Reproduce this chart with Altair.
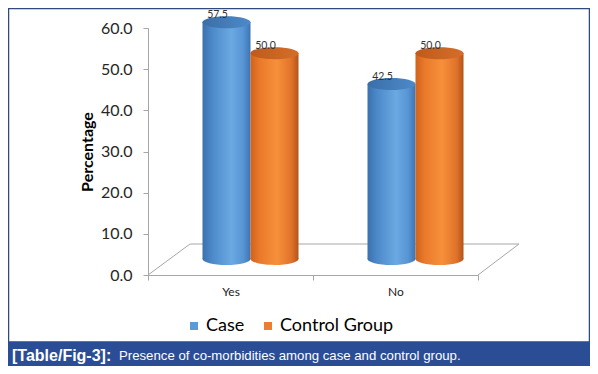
import altair as alt
import pandas as pd

categories = ["Yes", "No"]
series = ["Case", "Control Group"]
case_values = [57.5, 42.5]
control_values = [50.0, 50.0]
y_ticks = [0, 10, 20, 30, 40, 50, 60]
caption_bold = "[Table/Fig-3]:"
caption_text = "Presence of co-morbidities among case and control group."

rows = []
for i, c in enumerate(categories):
    rows.append({"cat": c, "series": series[0], "value": case_values[i]})
    rows.append({"cat": c, "series": series[1], "value": control_values[i]})
df = pd.DataFrame(rows)
df["zero"] = 0.0
df["label"] = df["value"].map(lambda v: f"{v:.1f}")

W, H = 330, 247
TOP = 20
DX, DY = 20, -16
BAND = 48
ELL = "M-1,0A1,0.25,0,1,0,1,0A1,0.25,0,1,0,-1,0Z"


def grad(stops):
    return {"gradient": "linear", "x1": 0, "y1": 0, "x2": 1, "y2": 0,
            "stops": [{"offset": o, "color": c} for o, c in stops]}


blue_body = grad([(0, "#3b70ad"), (0.2, "#4c89ca"), (0.6, "#6aa9e2"), (0.85, "#5794d4"), (1, "#3d74b3")])
orange_body = grad([(0, "#d0621b"), (0.2, "#ea7a2c"), (0.55, "#f7903a"), (0.85, "#e0732a"), (1, "#b4541a")])
blue_top = grad([(0, "#3a6ea8"), (1, "#4d8ac9")])
orange_top = grad([(0, "#bf5a1b"), (1, "#d46e2a")])

is_case = alt.datum.series == series[0]

AX = "#a6a6a6"
FONT = "Lato"

x_enc = alt.X("cat:N", sort=categories, scale=alt.Scale(paddingInner=0, paddingOuter=0),
              axis=alt.Axis(title=None, tickBand="extent", domainColor=AX, tickColor=AX, tickSize=5,
                            labelFont=FONT, labelFontSize=12, labelColor="#222222", labelPadding=6,
                            labelAngle=0))
xo_enc = alt.XOffset("series:N", sort=series,
                     scale=alt.Scale(paddingInner=0, paddingOuter=0.71875, range=[DX, W / 2 + DX]))
y_scale = alt.Scale(domain=[0, 60], nice=False, zero=True)
y_axis = alt.Axis(values=y_ticks, format=".1f", grid=False, domainColor=AX, tickColor=AX, tickSize=5,
                  labelPadding=11, labelFont=FONT, labelFontSize=16, labelColor="#262626",
                  titleFont=FONT, titleFontSize=16, titleFontWeight="bold", titleColor="#000000",
                  titlePadding=5)


def yv(field):
    return alt.Y(f"{field}:Q", scale=y_scale, axis=y_axis, title="Percentage")


base = alt.Chart(df).encode(x=x_enc, xOffset=xo_enc)

dummy = pd.DataFrame({"d": [0]})


def rule(x1, y1, x2, y2):
    return alt.Chart(dummy).mark_rule(color=AX, strokeWidth=1).encode(
        x=alt.value(x1), y=alt.value(y1), x2=alt.value(x2), y2=alt.value(y2))


floor = [
    rule(0, H, 2 * DX + 2, H + 2 * DY + 1),
    rule(2 * DX + 2, H + 2 * DY + 1, W + 2 * DX + 1, H + 2 * DY + 1),
    rule(W, H, W + 2 * DX + 1, H + 2 * DY + 1),
]

bottom = base.mark_point(shape=ELL, size=BAND * BAND, filled=True, opacity=1, strokeWidth=0,
                         yOffset=DY).encode(
    y=yv("zero"),
    fill=alt.condition(is_case, alt.value(blue_body), alt.value(orange_body)))

bars = base.mark_bar(yOffset=DY, y2Offset=DY).encode(
    y=yv("value"), y2=alt.Y2("zero:Q"),
    fill=alt.condition(is_case, alt.value(blue_body), alt.value(orange_body)))

tops = base.mark_point(shape=ELL, size=BAND * BAND, filled=True, opacity=1, strokeWidth=0,
                       yOffset=DY).encode(
    y=yv("value"),
    fill=alt.condition(is_case, alt.value(blue_top), alt.value(orange_top)))

labels = base.mark_text(font=FONT, fontSize=10.5, color="#333333", baseline="alphabetic",
                        dx=-9, dy=DY - 4).encode(y=yv("value"), text="label:N")

oy = 8 + TOP  # page y of plot origin
ox = 148      # page x of plot origin

legend_layer = base.mark_point(opacity=0, filled=True).encode(
    y=yv("value"),
    color=alt.Color("series:N", sort=series,
                    scale=alt.Scale(domain=series, range=["#5b9bd5", "#ed7d31"]),
                    legend=alt.Legend(orient="none", legendX=37, legendY=317 - oy,
                                      direction="horizontal",
                                      title=None, symbolType="square", symbolSize=64,
                                      symbolOpacity=1, symbolStrokeWidth=0,
                                      labelFont=FONT, labelFontSize=18, labelColor="#000000",
                                      columnPadding=14, labelOffset=3)))

border = alt.Chart(dummy).mark_rect(fillOpacity=0, stroke="#2f4a7d", strokeWidth=1.5).encode(
    x=alt.value(8.5 - ox), x2=alt.value(589.5 - ox), y=alt.value(8.5 - oy), y2=alt.value(342 - oy))

cap_rect = alt.Chart(dummy).mark_rect(color="#2a4d96").encode(
    x=alt.value(8 - ox), x2=alt.value(590 - ox), y=alt.value(342 - oy), y2=alt.value(366 - oy))

cap_b = alt.Chart(dummy).mark_text(text=caption_bold, font="Liberation Sans", fontSize=16,
                                   fontWeight="bold", color="#ffffff", align="left",
                                   baseline="middle").encode(x=alt.value(12 - ox), y=alt.value(356 - oy))
cap_t = alt.Chart(dummy).mark_text(text=caption_text, font="Liberation Sans", fontSize=13.2,
                                   color="#ffffff", align="left",
                                   baseline="middle").encode(x=alt.value(119 - ox), y=alt.value(356 - oy))

chart = alt.layer(*floor, bottom, bars, tops, labels, legend_layer, border, cap_rect, cap_b, cap_t).properties(
    width=W, height=H,
    padding={"left": 140, "top": TOP, "right": 112, "bottom": 358 - TOP - H},
    autosize=alt.AutoSizeParams(type="none"),
    background="white",
).configure_view(stroke=None)

chart.save("out.html", embed_options={"renderer": "svg", "actions": False})
